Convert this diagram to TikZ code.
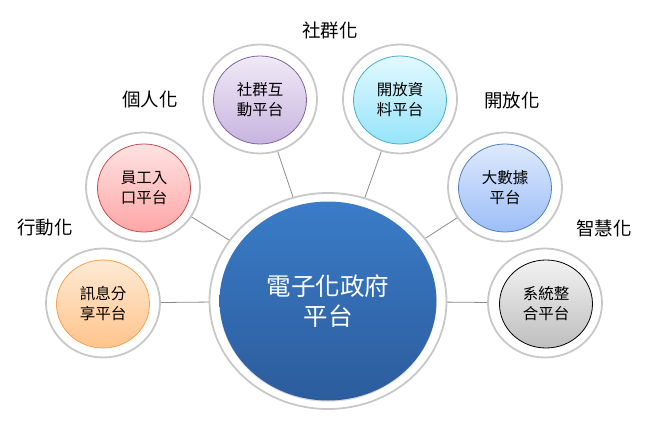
\documentclass[tikz,border=0pt]{standalone}
\usepackage{fontspec}
\newfontfamily\cjk{Noto Sans CJK TC}
\usetikzlibrary{shapes.geometric, shadows, backgrounds}

\definecolor{ringgray}{HTML}{C8C8C8}
\definecolor{linkgray}{HTML}{8C8C8C}

\tikzset{
  ring/.style={ellipse, draw=ringgray, line width=1.8pt, fill=white, inner sep=0pt,
    minimum width=114pt, minimum height=109pt},
  disc/.style={ellipse, line width=0.8pt, inner sep=0pt, align=center,
    minimum width=93pt, minimum height=88pt,
    font=\cjk\fontsize{15.5}{20}\selectfont},
  trend/.style={font=\cjk\fontsize{18.5}{22}\selectfont},
  link/.style={draw=linkgray, line width=0.8pt}
}

\begin{document}
\begin{tikzpicture}[x=1pt, y=-1pt]
\useasboundingbox (0,0) rectangle (656,433);

% Central platform
\node[ring, minimum width=237pt, minimum height=216pt] (hubring) at (328,301) {};
\node[disc, minimum width=217pt, minimum height=199pt, draw=none,
  top color={rgb,255:red,58;green,124;blue,200}, bottom color={rgb,255:red,44;green,92;blue,156},
  text=white, font=\cjk\fontsize{24.5}{30}\selectfont,
  drop shadow={shadow xshift=0pt, shadow yshift=-1.2pt, opacity=0.3}] (hub) at (328,301) {電子化政府\\平台};

% Satellite platforms
\node[ring] (msgring) at (103,303) {};
\node[disc, draw={rgb,255:red,247;green,160;blue,80}, top color={rgb,255:red,254;green,234;blue,212},
  bottom color={rgb,255:red,255;green,196;blue,140}] (msg) at (103,304) {訊息分\\享平台};

\node[ring] (staffring) at (143,187) {};
\node[disc, draw={rgb,255:red,192;green,80;blue,77}, top color={rgb,255:red,255;green,226;blue,226},
  bottom color={rgb,255:red,255;green,166;blue,166}] (staff) at (144,188) {員工入\\口平台};

\node[ring] (socialring) at (260,99) {};
\node[disc, draw={rgb,255:red,128;green,100;blue,162}, top color={rgb,255:red,240;green,234;blue,246},
  bottom color={rgb,255:red,200;green,180;blue,224}] (social) at (260,100) {社群互\\動平台};

\node[ring] (opendataring) at (400,99) {};
\node[disc, draw={rgb,255:red,75;green,172;blue,198}, top color={rgb,255:red,226;green,249;blue,255},
  bottom color={rgb,255:red,150;green,228;blue,250}] (opendata) at (400,100) {開放資\\料平台};

\node[ring] (bigdataring) at (505,187) {};
\node[disc, draw={rgb,255:red,79;green,129;blue,189}, top color={rgb,255:red,222;green,233;blue,253},
  bottom color={rgb,255:red,156;green,190;blue,248}] (bigdata) at (505,188) {大數據\\平台};

\node[ring] (sysring) at (545,303) {};
\node[disc, draw=black, top color={rgb,255:red,242;green,242;blue,242},
  bottom color={rgb,255:red,190;green,190;blue,190}] (sys) at (546,304) {系統整\\合平台};

% Links
\begin{scope}[on background layer]
\foreach \s in {msgring, staffring, socialring, opendataring, bigdataring, sysring}
  \draw[link] (hubring.center) -- (\s.center);
\end{scope}

% Trend labels
\node[trend] (mobile) at (45,228) {行動化};
\node[trend] (personal) at (150,100) {個人化};
\node[trend] (community) at (330,30) {社群化};
\node[trend] (opened) at (512,100) {開放化};
\node[trend] (smart) at (604,228) {智慧化};
\end{tikzpicture}
\end{document}
